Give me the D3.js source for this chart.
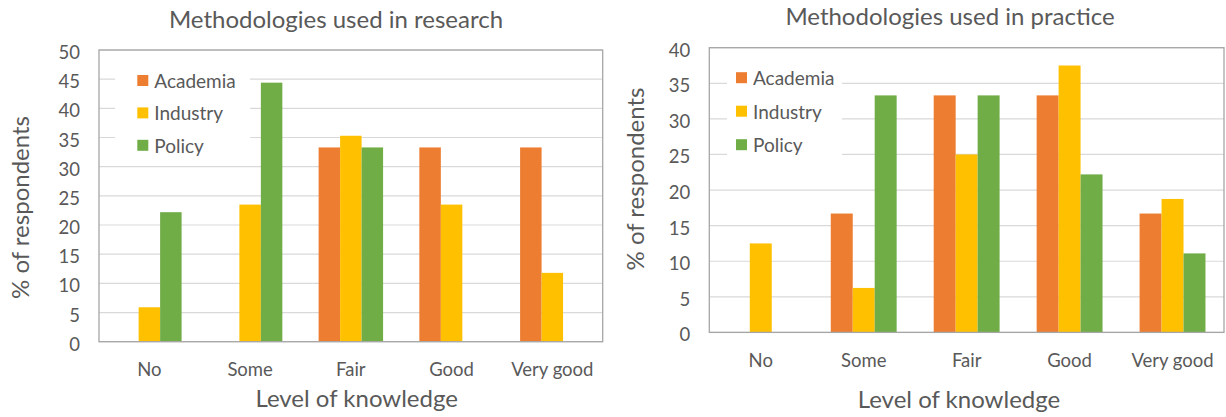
<!DOCTYPE html>
<html>
<head>
<meta charset="utf-8">
<script src="https://cdn.jsdelivr.net/npm/d3@7"></script>
<style>
  html, body { margin: 0; padding: 0; background: #ffffff; }
  svg { display: block; font-family: Lato, "Open Sans", sans-serif; }
</style>
</head>
<body>
<svg id="chart" width="1226" height="417"></svg>
<script>
// Knowledge levels on the x axis
const categories = ["No", "Some", "Fair", "Good", "Very good"];
// Respondent groups
const seriesNames = ["Academia", "Industry", "Policy"];
const seriesColors = ["#ED7D31", "#FFC000", "#70AD47"];

// Methodologies used in research (% of respondents)
const researchAcademia = [0, 0, 33.3, 33.3, 33.3];
const researchIndustry = [5.9, 23.5, 35.3, 23.5, 11.8];
const researchPolicy   = [22.2, 44.4, 33.3, 0, 0];
const researchTicks    = [0, 5, 10, 15, 20, 25, 30, 35, 40, 45, 50];

// Methodologies used in practice (% of respondents)
const practiceAcademia = [0, 16.7, 33.3, 33.3, 16.7];
const practiceIndustry = [12.5, 6.25, 25, 37.5, 18.75];
const practicePolicy   = [0, 33.3, 33.3, 22.2, 11.1];
const practiceTicks    = [0, 5, 10, 15, 20, 25, 30, 35, 40];

const TEXT = "#595959";
const GRID = "#D9D9D9";
const FRAME = "#A6A6A6";

const svg = d3.select("#chart");

function drawChart(opts) {
  const g = svg.append("g");
  const { plot, values, ticks, title, legend } = opts;

  const x = d3.scaleBand().domain(categories).range([plot.left, plot.right]);
  const groupFrac = 0.64;
  const bw = x.bandwidth();
  const xs = d3.scaleBand().domain(seriesNames)
    .range([bw * (1 - groupFrac) / 2, bw * (1 + groupFrac) / 2]);
  const y = d3.scaleLinear().domain([0, d3.max(ticks)]).range([plot.bottom, plot.top]);

  // gridlines
  g.append("g").selectAll("line").data(ticks).join("line")
    .attr("x1", plot.left).attr("x2", plot.right)
    .attr("y1", d => y(d)).attr("y2", d => y(d))
    .attr("stroke", GRID).attr("stroke-width", 1.2);

  // y tick labels
  g.append("g").selectAll("text").data(ticks).join("text")
    .attr("x", plot.left - 19).attr("y", d => y(d) + 2)
    .attr("text-anchor", "end").attr("dominant-baseline", "central")
    .attr("fill", TEXT).style("font-size", "18.5px")
    .text(d => d);

  // bars
  const rows = [];
  categories.forEach((c, i) => {
    seriesNames.forEach((s, j) => rows.push({ cat: c, series: s, color: seriesColors[j], v: values[j][i] }));
  });
  g.append("g").selectAll("rect").data(rows).join("rect")
    .attr("x", d => x(d.cat) + xs(d.series))
    .attr("width", xs.bandwidth())
    .attr("y", d => y(d.v))
    .attr("height", d => y(0) - y(d.v))
    .attr("fill", d => d.color);

  // plot frame
  g.append("rect")
    .attr("x", plot.left).attr("y", plot.top)
    .attr("width", plot.right - plot.left).attr("height", plot.bottom - plot.top)
    .attr("fill", "none").attr("stroke", FRAME).attr("stroke-width", 1.3);

  // x tick labels
  g.append("g").selectAll("text").data(categories).join("text")
    .attr("x", d => x(d) + bw / 2).attr("y", opts.xTickBaseline)
    .attr("text-anchor", "middle").attr("fill", TEXT).style("font-size", "18.5px")
    .text(d => d);

  // legend
  const lg = g.append("g");
  lg.append("rect")
    .attr("x", legend.box[0]).attr("y", legend.box[1])
    .attr("width", legend.box[2]).attr("height", legend.box[3])
    .attr("fill", "#ffffff");
  const items = lg.selectAll("g").data(seriesNames).join("g")
    .attr("transform", (d, i) => `translate(${legend.x},${legend.y + i * legend.step})`);
  items.append("rect").attr("x", 0).attr("y", -5.5).attr("width", 11).attr("height", 11)
    .attr("fill", (d, i) => seriesColors[i]);
  items.append("text").attr("x", 17).attr("y", 0).attr("dominant-baseline", "central")
    .attr("fill", TEXT).style("font-size", "19px").text(d => d);

  // chart title
  g.append("text").attr("x", title.x).attr("y", title.y)
    .attr("text-anchor", "middle").attr("fill", TEXT).style("font-size", "24px")
    .text(title.text);

  // axis titles
  g.append("text").attr("x", opts.xTitle[0]).attr("y", opts.xTitle[1])
    .attr("text-anchor", "middle").attr("fill", TEXT).style("font-size", "24px")
    .text("Level of knowledge");
  g.append("text")
    .attr("transform", `translate(${opts.yTitle[0]},${opts.yTitle[1]}) rotate(-90)`)
    .attr("text-anchor", "middle").attr("fill", TEXT).style("font-size", "24px")
    .text("% of respondents");
}

drawChart({
  plot: { left: 99, right: 602.7, top: 50, bottom: 341.7 },
  values: [researchAcademia, researchIndustry, researchPolicy],
  ticks: researchTicks,
  title: { text: "Methodologies used in research", x: 336, y: 28 },
  legend: { box: [115, 60, 135, 97], x: 137.3, y: 80.5, step: 32.4 },
  xTickBaseline: 375.7,
  xTitle: [356.7, 407],
  yTitle: [28.5, 207.5]
});

drawChart({
  plot: { left: 709.3, right: 1224, top: 47.7, bottom: 332.4 },
  values: [practiceAcademia, practiceIndustry, practicePolicy],
  ticks: practiceTicks,
  title: { text: "Methodologies used in practice", x: 950, y: 25 },
  legend: { box: [727, 58, 115, 110], x: 736, y: 77.7, step: 33.5 },
  xTickBaseline: 367.3,
  xTitle: [959, 408.3],
  yTitle: [644, 179]
});
</script>
</body>
</html>
